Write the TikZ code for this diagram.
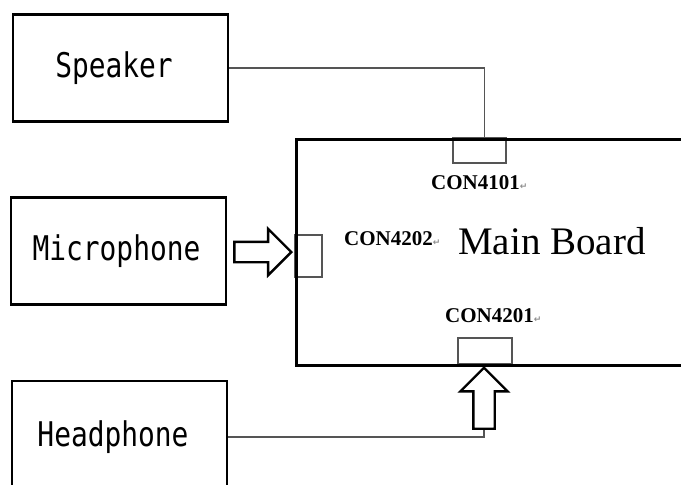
\documentclass[tikz,border=0pt]{standalone}
\usepackage{fontspec}
\setmainfont{Liberation Serif}
\newfontfamily\gothicfont[FakeStretch=0.82]{DejaVu Sans Mono}
\newfontfamily\symfont{DejaVu Sans}
\usetikzlibrary{shapes.arrows}
\definecolor{wiregray}{HTML}{555555}
\newcommand{\retmark}{{\symfont\fontsize{9}{9}\selectfont\color{black!45}↵}}

\begin{document}
\begin{tikzpicture}[x=1pt,y=-1pt,
  device/.style={draw,line width=2.8pt,minimum width=215pt,minimum height=107pt,inner sep=0pt,font=\gothicfont\fontsize{34}{34}\selectfont,execute at end node=\hspace*{#1}},
  device/.default=13pt,
  conn/.style={draw=wiregray,line width=1.4pt,inner sep=0pt},
  wire/.style={draw=wiregray,line width=1.4pt},
  conlabel/.style={anchor=west,inner sep=0pt,font=\bfseries\fontsize{21}{21}\selectfont},
  bigarrow/.style={single arrow,draw,line width=2.4pt,single arrow head extend=13pt,single arrow head indent=0pt}]
  \useasboundingbox (0,0) rectangle (681,485);
  \clip (0,0) rectangle (681,485);

  % peripheral devices
  \node[device] (speaker) at (120.5,68) {Speaker};
  \node[device=4pt] (mic) at (118.5,251) {Microphone};
  \node[device,minimum height=112pt] (headphone) at (119.5,437) {Headphone};

  % connectors on the board edge
  \node[conn,minimum width=53pt,minimum height=25pt] (con4101) at (479.5,150.5) {};
  \node[conn,minimum width=27pt,minimum height=42pt] (con4202) at (308.5,256) {};
  \node[conn,minimum width=54pt,minimum height=26pt] (con4201) at (485,351) {};

  % main board (runs off the right side)
  \node[draw,line width=2.8pt,minimum width=400pt,minimum height=226pt,inner sep=0pt,anchor=north west] (board) at (295,138) {};

  \node[conlabel] (lab4101) at (431,183) {CON4101\retmark};
  \node[conlabel] (lab4202) at (344,239) {CON4202\retmark};
  \node[conlabel] (lab4201) at (445,316) {CON4201\retmark};
  \node[anchor=west,inner sep=0pt,font=\fontsize{39}{39}\selectfont] (boardname) at (458,241) {Main Board};

  % hollow arrows
  \node[bigarrow,inner xsep=0pt,inner ysep=9pt,minimum height=57pt,anchor=tip] (micarrow) at (293,252) {};
  \node[bigarrow,inner xsep=9.5pt,inner ysep=0pt,minimum height=61pt,shape border rotate=90,anchor=tip] (hparrow) at (484,366) {};

  % wires
  \draw[wire] (speaker.east) -| ([xshift=5pt]con4101.north);
  \draw[wire] (headphone.east) -| (hparrow.tail);
\end{tikzpicture}
\end{document}
